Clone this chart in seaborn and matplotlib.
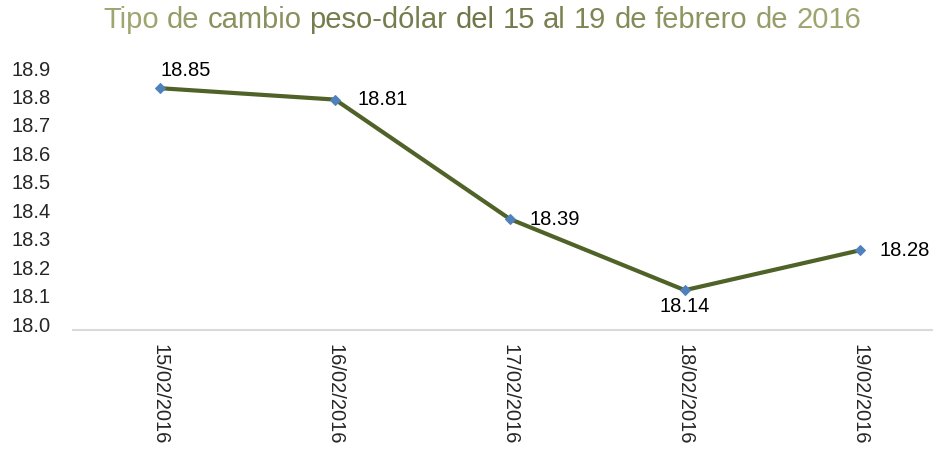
import numpy as np
import pandas as pd
import matplotlib.pyplot as plt
import matplotlib.transforms as mtransforms
from matplotlib.colors import LinearSegmentedColormap
import seaborn as sns

# ---------------- Datos ----------------
fechas = ['15/02/2016', '16/02/2016', '17/02/2016', '18/02/2016', '19/02/2016']
tipo_cambio = [18.85, 18.81, 18.39, 18.14, 18.28]
y_ticks = [18.0, 18.1, 18.2, 18.3, 18.4, 18.5, 18.6, 18.7, 18.8, 18.9]
titulo = 'Tipo de cambio peso-dólar del 15 al 19 de febrero de 2016'

df = pd.DataFrame({'Fecha': fechas, 'Tipo': tipo_cambio})

sns.set_style('white')
plt.rcParams['font.family'] = ['Liberation Sans', 'DejaVu Sans']

W, H = 933, 459
fig = plt.figure(figsize=(W / 100, H / 100), dpi=100)
ax = fig.add_axes([73 / W, 1 - 330 / H, (W - 73) / W, (330 - 74) / H])

sns.lineplot(data=df, x='Fecha', y='Tipo', ax=ax, color='#4f6228', linewidth=3,
             marker='D', markersize=5.5, markerfacecolor='#4f81bd',
             markeredgecolor='#4f81bd', sort=False)

ax.set_xlim(-0.5, 4.42)
ax.set_ylim(18.0, 18.9)
ax.set_yticks(y_ticks)
ax.set_yticklabels([f'{t:.1f}' for t in y_ticks], fontsize=14.5)
ax.tick_params(axis='y', length=0, pad=16)
ax.tick_params(axis='x', length=0, pad=10)
plt.setp(ax.get_xticklabels(), rotation=270, fontsize=14.5, va='top', ha='center')
# etiquetas del eje y un poco más arriba (como en Excel)
desplaza = mtransforms.ScaledTranslation(0, 6 / 100, fig.dpi_scale_trans)
for lbl in ax.get_yticklabels():
    lbl.set_transform(lbl.get_transform() + desplaza)
ax.set_xlabel('')
ax.set_ylabel('')

for s in ['top', 'right', 'left']:
    ax.spines[s].set_visible(False)
ax.spines['bottom'].set_color('#d9d9d9')
ax.spines['bottom'].set_linewidth(1.5)

# etiquetas de datos
offsets = [(0, 13, 'left', 'center'), (16, 0, 'left', 'center'), (14, 0, 'left', 'center'),
           (0, -5, 'center', 'top'), (14, 0, 'left', 'center')]
for i, v in enumerate(tipo_cambio):
    dx, dy, ha, va = offsets[i]
    ax.annotate(f'{v:.2f}', (i, v), xytext=(dx, dy), textcoords='offset points',
                ha=ha, va=va, fontsize=14.5, color='black')

# ---------------- Título con degradado (palabra por palabra) ----------------
fig.canvas.draw()
renderer = fig.canvas.get_renderer()
fs_tit = 21


def ancho(s):
    t = fig.text(0, 0, s, fontsize=fs_tit)
    w = t.get_window_extent(renderer).width
    t.remove()
    return w


palabras = titulo.split(' ')
total = ancho(titulo)
x0 = 482 - total / 2
cmap = LinearSegmentedColormap.from_list('tit', ['#a3a972', '#6b7244', '#a3a972'])
for i, p in enumerate(palabras):
    inicio = ancho(' '.join(palabras[:i + 1])) - ancho(p)
    centro = x0 + inicio + ancho(p) / 2
    frac = np.clip((centro - x0) / total, 0, 1)
    # oscuro hacia "peso-dólar del"
    t = np.interp(frac, [0, 0.45, 1], [0, 0.5, 1])
    fig.text((x0 + inicio) / W, 1 - 20 / H, p, ha='left', va='center',
             fontsize=fs_tit, color=cmap(t))

fig.savefig('out.png', dpi=100)
